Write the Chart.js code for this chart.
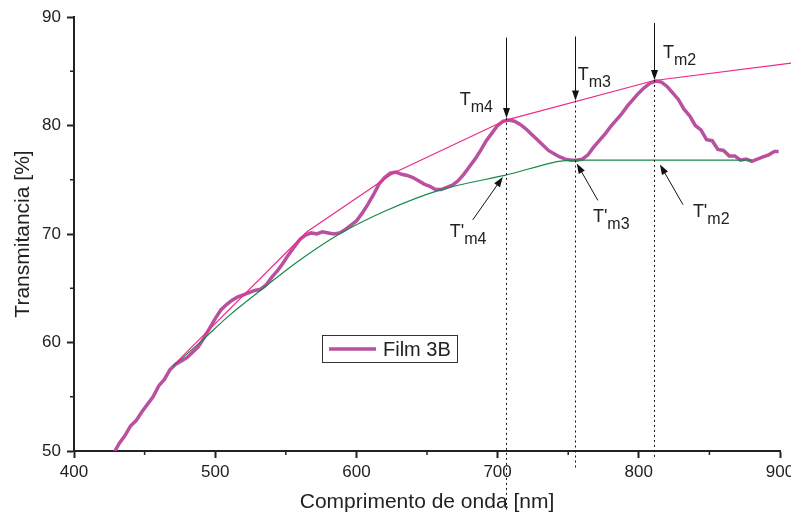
<!DOCTYPE html>
<html>
<head>
<meta charset="utf-8">
<script src="https://cdn.jsdelivr.net/npm/chart.js@4.4.1/dist/chart.umd.min.js"></script>
<style>
  html, body { margin: 0; padding: 0; background: #fff; }
  #wrap { width: 791px; height: 517px; }
</style>
</head>
<body>
<div id="wrap"><canvas id="chart" width="791" height="517"></canvas></div>
<script>
// ── data ──────────────────────────────────────────────────────────────
const SERIES_LABEL = 'Film 3B';

const waveNm = [
  429, 432, 436, 440, 444, 448, 452, 456, 460, 464, 468, 472, 476, 480, 484,
  488, 492, 496, 500, 504, 508, 512, 516, 520, 524, 528, 532, 536, 540, 544,
  548, 552, 556, 560, 564, 568, 572, 576, 580, 584, 588, 592, 596, 600, 604,
  608, 612, 616, 620, 624, 628, 632, 636, 640, 644, 648, 652, 656, 660, 664,
  668, 672, 676, 680, 684, 688, 692, 696, 700, 704, 708, 712, 716, 720, 724,
  728, 732, 736, 740, 744, 748, 752, 756, 760, 764, 768, 772, 776, 780, 784,
  788, 792, 796, 800, 804, 808, 812, 816, 820, 824, 828, 832, 836, 840, 844,
  848, 852, 856, 860, 864, 868, 872, 876, 880, 884, 888, 892, 896, 899
];
const transmit = [
  50.0, 50.7, 51.4, 52.3, 52.8, 53.6, 54.3, 55.0, 56.0, 56.6, 57.5, 58.0, 58.3, 58.6, 59.1,
  59.6, 60.4, 61.3, 62.2, 63.0, 63.5, 63.9, 64.2, 64.4, 64.6, 64.8, 64.9, 65.3, 66.0, 66.6,
  67.3, 68.1, 68.8, 69.5, 69.9, 70.1, 70.0, 70.2, 70.1, 70.0, 70.1, 70.4, 70.8, 71.2, 71.9,
  72.7, 73.6, 74.6, 75.2, 75.6, 75.7, 75.5, 75.4, 75.2, 74.9, 74.6, 74.4, 74.1, 74.1, 74.3,
  74.5, 74.9, 75.5, 76.2, 76.9, 77.7, 78.6, 79.3, 80.0, 80.4, 80.5, 80.4, 80.1, 79.7, 79.2,
  78.7, 78.2, 77.7, 77.4, 77.1, 76.9, 76.8, 76.8, 76.9, 77.3, 78.0, 78.6, 79.2, 79.9, 80.5,
  81.1, 81.8, 82.4, 83.0, 83.5, 83.9, 84.1, 84.0, 83.6, 83.0, 82.4, 81.5, 80.9, 80.0, 79.6,
  78.7, 78.6, 77.8, 77.7, 77.2, 77.2, 76.8, 76.9, 76.7, 76.9, 77.1, 77.3, 77.6, 77.6
];

// upper envelope (through the maxima) and lower envelope (through the minima)
const upperX = [472, 565, 626, 706, 811, 908];
const upperY = [58.1, 70.2, 75.6, 80.5, 84.15, 85.75];
const lowerX = [470, 490, 510, 534, 560, 588, 620, 659, 705, 754, 880];
const lowerY = [57.8, 60.1, 62.5, 65.0, 67.6, 70.0, 72.1, 74.05, 75.4, 76.8, 76.8];

// T_m markers: wavelength of each maximum, and the envelope values at it
const markSub   = ['m4', 'm3', 'm2'];
const markX     = [706, 754.7, 810.7];
const markUpper = [80.7, 82.3, 84.2];
const markLower = [44.6, 48.3, 49.3];   // where the dotted guide ends (below the axis)
const markArrowTop = [88.1, 88.2, 89.45];
// T_m label anchors (left / baseline, data units)
const labelX = [673.2, 756.8, 817.1];
const labelY = [81.9, 84.2, 86.2];

// T'_m arrows and labels
const primeFromX = [682.4, 771.0, 831.3];
const primeFromY = [71.3, 73.1, 72.7];
const primeToX   = [703.7, 756.1, 815.0];
const primeToY   = [75.25, 76.5, 76.4];
const primeLabelX = [666.1, 767.5, 838.3];
const primeLabelY = [69.7, 71.1, 71.55];

// ── styles ────────────────────────────────────────────────────────────
const FONT       = "'Liberation Sans', Arial, sans-serif";
const INK        = '#222';
const CURVE      = '#b9519f';
const PINK       = '#f0288a';
const GREEN      = '#158a48';

const pts = (xs, ys) => xs.map((x, i) => ({ x, y: ys[i] }));

function arrow(ctx, x1, y1, x2, y2) {
  const ang = Math.atan2(y2 - y1, x2 - x1);
  const len = 10, half = 3.5;
  ctx.beginPath();
  ctx.moveTo(x1, y1);
  ctx.lineTo(x2 - Math.cos(ang) * len * 0.8, y2 - Math.sin(ang) * len * 0.8);
  ctx.stroke();
  ctx.beginPath();
  ctx.moveTo(x2, y2);
  ctx.lineTo(x2 - Math.cos(ang) * len - Math.sin(ang) * half,
             y2 - Math.sin(ang) * len + Math.cos(ang) * half);
  ctx.lineTo(x2 - Math.cos(ang) * len + Math.sin(ang) * half,
             y2 - Math.sin(ang) * len - Math.cos(ang) * half);
  ctx.closePath();
  ctx.fill();
}

function subLabel(ctx, x, y, main, sub) {
  ctx.font = `18px ${FONT}`;
  ctx.textAlign = 'left';
  ctx.textBaseline = 'alphabetic';
  ctx.fillText(main, x, y);
  const w = ctx.measureText(main).width;
  ctx.font = `16px ${FONT}`;
  ctx.fillText(sub, x + w, y + 7);
}

// minor ticks, guides, arrows, labels and the in-plot legend
const annotate = {
  id: 'annotate',
  afterDatasetsDraw(chart) {
    const { ctx, scales: { x, y }, chartArea } = chart;
    ctx.save();

    // minor ticks halfway between the major ones
    ctx.strokeStyle = INK;
    ctx.lineWidth = 1.5;
    const xt = x.ticks.map(t => t.value);
    for (let i = 0; i < xt.length - 1; i++) {
      const px = x.getPixelForValue((xt[i] + xt[i + 1]) / 2);
      ctx.beginPath();
      ctx.moveTo(px, chartArea.bottom);
      ctx.lineTo(px, chartArea.bottom + 4);
      ctx.stroke();
    }
    const yt = y.ticks.map(t => t.value);
    for (let i = 0; i < yt.length - 1; i++) {
      const py = y.getPixelForValue((yt[i] + yt[i + 1]) / 2);
      ctx.beginPath();
      ctx.moveTo(chartArea.left, py);
      ctx.lineTo(chartArea.left - 4, py);
      ctx.stroke();
    }

    // dotted guides
    ctx.lineWidth = 1;
    ctx.strokeStyle = '#111';
    ctx.setLineDash([2, 3]);
    markX.forEach((mx, i) => {
      const px = Math.round(x.getPixelForValue(mx)) + 0.5;
      ctx.beginPath();
      ctx.moveTo(px, y.getPixelForValue(markUpper[i]));
      ctx.lineTo(px, y.getPixelForValue(markLower[i]));
      ctx.stroke();
    });
    ctx.setLineDash([]);

    // arrows
    ctx.fillStyle = '#111';
    markX.forEach((mx, i) => {
      const px = Math.round(x.getPixelForValue(mx)) + 0.5;
      arrow(ctx, px, y.getPixelForValue(markArrowTop[i]), px, y.getPixelForValue(markUpper[i]));
    });
    primeFromX.forEach((fx, i) => {
      arrow(ctx,
        x.getPixelForValue(fx), y.getPixelForValue(primeFromY[i]),
        x.getPixelForValue(primeToX[i]), y.getPixelForValue(primeToY[i]));
    });

    // labels
    ctx.fillStyle = INK;
    markSub.forEach((s, i) => {
      subLabel(ctx, x.getPixelForValue(labelX[i]), y.getPixelForValue(labelY[i]), 'T', s);
      subLabel(ctx, x.getPixelForValue(primeLabelX[i]), y.getPixelForValue(primeLabelY[i]), "T'", s);
    });

    // legend box
    const ds = chart.data.datasets[0];
    const lx = chartArea.left + chartArea.width * 0.3513;
    const ly = chartArea.top + chartArea.height * 0.7327;
    ctx.fillStyle = '#fff';
    ctx.fillRect(lx, ly, 135, 27);
    ctx.strokeStyle = '#333';
    ctx.lineWidth = 1;
    ctx.strokeRect(Math.round(lx) + 0.5, Math.round(ly) + 0.5, 135, 27);
    ctx.strokeStyle = ds.borderColor;
    ctx.lineWidth = 3.5;
    ctx.beginPath();
    ctx.moveTo(lx + 7, ly + 14);
    ctx.lineTo(lx + 54, ly + 14);
    ctx.stroke();
    ctx.fillStyle = INK;
    ctx.font = `20px ${FONT}`;
    ctx.textAlign = 'left';
    ctx.textBaseline = 'alphabetic';
    ctx.fillText(ds.label, lx + 61, ly + 21);

    ctx.restore();
  }
};

const datasets = [
  {
    label: SERIES_LABEL,
    data: pts(waveNm, transmit),
    borderColor: CURVE,
    borderWidth: 3.5,
    pointRadius: 0,
    tension: 0,
    order: 2
  },
  {
    label: '_upper',
    data: pts(upperX, upperY),
    borderColor: PINK,
    borderWidth: 1.2,
    pointRadius: 0,
    tension: 0,
    clip: false,
    order: 1
  },
  {
    label: '_lower',
    data: pts(lowerX, lowerY),
    borderColor: GREEN,
    borderWidth: 1.2,
    pointRadius: 0,
    cubicInterpolationMode: 'monotone',
    order: 1
  }
];

new Chart(document.getElementById('chart').getContext('2d'), {
  type: 'line',
  data: { datasets },
  options: {
    responsive: false,
    devicePixelRatio: 1,
    animation: false,
    layout: { padding: { top: 17, right: 11, left: 0, bottom: 0 } },
    plugins: {
      legend: { display: false },
      tooltip: { enabled: false }
    },
    scales: {
      x: {
        type: 'linear',
        min: 400,
        max: 900,
        afterFit(scale) {
          scale.height = 66;
          scale.paddingLeft = 0;
          scale.paddingRight = 0;
        },
        border: { display: true, color: INK, width: 2 },
        grid: { drawOnChartArea: false, drawTicks: true, tickLength: 7, tickWidth: 2, tickColor: INK },
        ticks: { stepSize: 100, padding: 4, color: INK, font: { family: FONT, size: 17 } },
        title: {
          display: true,
          text: 'Comprimento de onda [nm]',
          color: INK,
          font: { family: FONT, size: 21 },
          padding: { top: 0, bottom: 2 }
        }
      },
      y: {
        min: 50,
        max: 90,
        afterFit(scale) {
          scale.width = 74;
          scale.paddingTop = 0;
          scale.paddingBottom = 0;
        },
        border: { display: true, color: INK, width: 2 },
        grid: { drawOnChartArea: false, drawTicks: true, tickLength: 7, tickWidth: 2, tickColor: INK },
        ticks: { stepSize: 10, padding: 6, color: INK, font: { family: FONT, size: 17 } },
        title: {
          display: true,
          text: 'Transmitancia [%]',
          color: INK,
          font: { family: FONT, size: 21 },
          padding: { top: 11, bottom: 0 }
        }
      }
    }
  },
  plugins: [annotate]
});
</script>
</body>
</html>
